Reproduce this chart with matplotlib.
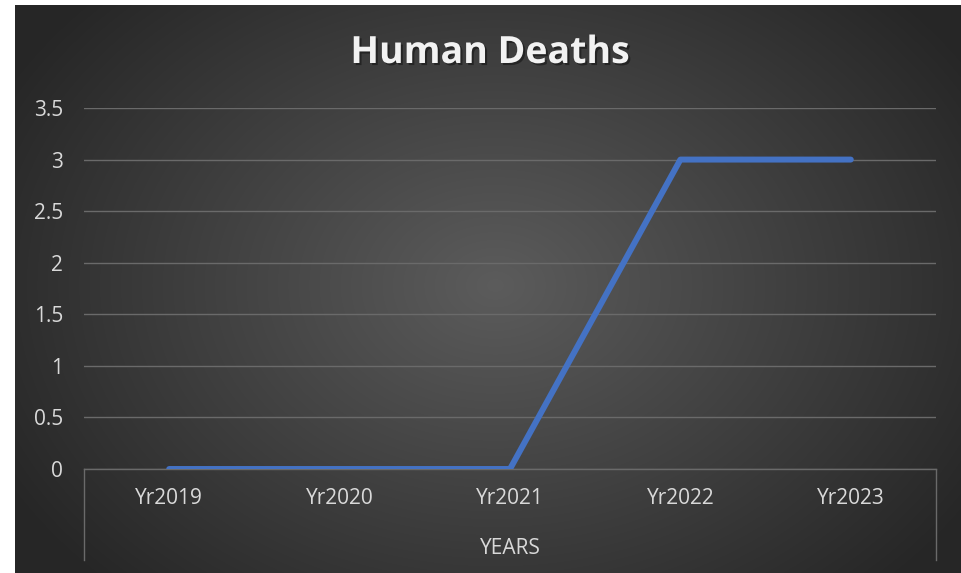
import numpy as np
import matplotlib.pyplot as plt
import matplotlib.patheffects as pe
from matplotlib.lines import Line2D

years = ['Yr2019', 'Yr2020', 'Yr2021', 'Yr2022', 'Yr2023']
deaths = [0, 0, 0, 3, 3]
yticks = [0, 0.5, 1, 1.5, 2, 2.5, 3, 3.5]
ytick_labels = ['0', '0.5', '1', '1.5', '2', '2.5', '3', '3.5']

plt.rcParams['font.family'] = ['Open Sans', 'DejaVu Sans']

fig = plt.figure(figsize=(9.61, 5.73), dpi=100)
fig.patch.set_facecolor('white')

# dark radial gradient background (Excel style)
bg = fig.add_axes([15/961, 0, 946/961, 568/573])
bg.axis('off')
yy, xx = np.mgrid[0:568, 0:946]
r = np.sqrt(((xx - 480) / 560.0) ** 2 + ((yy - 280) / 420.0) ** 2)
r = np.clip(r, 0, 1)
val = 0.36 - 0.21 * r
img = np.dstack([val, val, val])
bg.imshow(img, extent=[0, 1, 0, 1], aspect='auto', interpolation='bilinear')
bg.set_xlim(0, 1)
bg.set_ylim(0, 1)

ax = fig.add_axes([84/961, 1 - 469/573, 852/961, 361/573])
ax.patch.set_alpha(0)
x = np.arange(len(years))
ax.plot(x, deaths, color='#4472C4', linewidth=4.3, solid_capstyle='round',
        solid_joinstyle='round', zorder=3)

ax.set_xlim(-0.5, len(years) - 0.5)
ax.set_ylim(0, 3.5)
ax.set_yticks(yticks)
ax.set_yticklabels(ytick_labels)
ax.set_xticks(x)
ax.set_xticklabels(years)
ax.tick_params(axis='both', length=0, colors='#d9d9d9', labelsize=15)
ax.tick_params(axis='y', pad=15)
ax.tick_params(axis='x', pad=14)
ax.grid(True, axis='y', color='#6a6a6a', linewidth=1.0)
for s in ['top', 'right', 'left']:
    ax.spines[s].set_visible(False)
ax.spines['bottom'].set_color('#6a6a6a')
ax.spines['bottom'].set_linewidth(1.0)

# category axis boundary lines below the plot
for xb in [0, 1]:
    ax.add_line(Line2D([xb, xb], [0, -91/361], transform=ax.transAxes,
                       color='#6a6a6a', linewidth=1.0, clip_on=False))

fig.text(510/961, 1 - 548/573, 'YEARS', color='#d9d9d9', fontsize=15,
         ha='center', va='center')
fig.text(490/961, 1 - 53/573, 'Human Deaths', color='#f2f2f2', fontsize=27,
         fontweight='bold', ha='center', va='center',
         path_effects=[pe.withSimplePatchShadow(offset=(1.5, -1.5), shadow_rgbFace='black', alpha=0.4)])

fig.savefig('out.png', dpi=100)
